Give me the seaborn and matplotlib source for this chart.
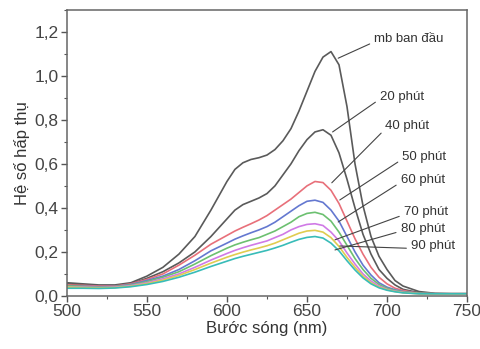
import pandas as pd
import seaborn as sns
import matplotlib.pyplot as plt
from matplotlib.ticker import MultipleLocator, FuncFormatter

wavelength = [500, 510, 520, 530, 540, 550, 560, 570, 580, 590, 600, 605, 610, 615,
              620, 625, 630, 635, 640, 645, 650, 655, 660, 665, 670, 675, 680, 685,
              690, 695, 700, 705, 710, 720, 730, 740, 750]

mb_ban_dau = [0.06, 0.055, 0.05, 0.05, 0.06, 0.09, 0.13, 0.19, 0.27, 0.39, 0.52, 0.575, 0.605, 0.62,
              0.628, 0.64, 0.665, 0.705, 0.76, 0.84, 0.93, 1.02, 1.085, 1.11, 1.05, 0.86, 0.60, 0.41,
              0.27, 0.18, 0.12, 0.07, 0.045, 0.02, 0.012, 0.01, 0.01]
phut_20 = [0.055, 0.05, 0.045, 0.045, 0.055, 0.08, 0.11, 0.15, 0.20, 0.27, 0.35, 0.39, 0.415, 0.43,
           0.445, 0.465, 0.50, 0.55, 0.60, 0.66, 0.71, 0.745, 0.755, 0.73, 0.65, 0.53, 0.40, 0.28,
           0.19, 0.12, 0.08, 0.05, 0.03, 0.015, 0.01, 0.01, 0.01]
phut_40 = [0.05, 0.048, 0.045, 0.045, 0.055, 0.075, 0.10, 0.14, 0.185, 0.235, 0.275, 0.295, 0.312, 0.328,
           0.345, 0.365, 0.39, 0.415, 0.44, 0.47, 0.50, 0.52, 0.515, 0.48, 0.42, 0.34, 0.26, 0.19,
           0.13, 0.085, 0.055, 0.035, 0.025, 0.012, 0.01, 0.01, 0.01]
phut_50 = [0.045, 0.044, 0.042, 0.043, 0.052, 0.07, 0.09, 0.12, 0.16, 0.205, 0.24, 0.258, 0.273, 0.287,
           0.30, 0.315, 0.335, 0.36, 0.385, 0.41, 0.43, 0.435, 0.425, 0.39, 0.34, 0.27, 0.20, 0.14,
           0.095, 0.06, 0.04, 0.028, 0.02, 0.012, 0.01, 0.01, 0.01]
phut_60 = [0.045, 0.043, 0.04, 0.042, 0.05, 0.065, 0.085, 0.11, 0.145, 0.183, 0.217, 0.232, 0.244, 0.255,
           0.265, 0.28, 0.295, 0.315, 0.335, 0.36, 0.375, 0.38, 0.37, 0.34, 0.29, 0.23, 0.17, 0.12,
           0.08, 0.052, 0.035, 0.025, 0.018, 0.012, 0.01, 0.01, 0.01]
phut_70 = [0.04, 0.04, 0.038, 0.04, 0.047, 0.06, 0.078, 0.10, 0.13, 0.163, 0.193, 0.207, 0.219, 0.23,
           0.24, 0.25, 0.265, 0.28, 0.30, 0.315, 0.325, 0.328, 0.32, 0.29, 0.25, 0.195, 0.145, 0.10,
           0.068, 0.045, 0.03, 0.022, 0.016, 0.01, 0.01, 0.01, 0.01]
phut_80 = [0.04, 0.038, 0.036, 0.038, 0.044, 0.056, 0.072, 0.093, 0.12, 0.149, 0.176, 0.188, 0.199, 0.209,
           0.218, 0.228, 0.24, 0.255, 0.27, 0.285, 0.295, 0.298, 0.29, 0.265, 0.225, 0.175, 0.13, 0.09,
           0.06, 0.04, 0.028, 0.02, 0.015, 0.01, 0.01, 0.01, 0.01]
phut_90 = [0.035, 0.035, 0.034, 0.036, 0.042, 0.052, 0.066, 0.085, 0.108, 0.134, 0.158, 0.17, 0.18, 0.189,
           0.198, 0.207, 0.218, 0.23, 0.244, 0.257, 0.266, 0.27, 0.263, 0.24, 0.205, 0.16, 0.118, 0.082,
           0.055, 0.037, 0.026, 0.019, 0.014, 0.01, 0.01, 0.01, 0.01]

series_names = ["mb ban đầu", "20 phút", "40 phút", "50 phút", "60 phút", "70 phút", "80 phút", "90 phút"]
series_values = [mb_ban_dau, phut_20, phut_40, phut_50, phut_60, phut_70, phut_80, phut_90]
colors = ["#5a5a5a", "#5a5a5a", "#e8707a", "#6478d0", "#6cc070", "#d07ae6", "#e0cc50", "#38bcb8"]

# label text position and the point on the curve the leader line goes to
label_pos = [(692, 1.165), (695.5, 0.905), (699, 0.77), (709.5, 0.632), (708.5, 0.527),
             (710.5, 0.38), (708.5, 0.305), (715, 0.227)]
line_to = [(669.5, 1.08), (666, 0.745), (665.5, 0.514), (670.5, 0.436), (669.5, 0.336),
           (667.5, 0.255), (667.5, 0.209), (670.5, 0.227)]

rows = []
for name, vals in zip(series_names, series_values):
    for w, a in zip(wavelength, vals):
        rows.append({"wl": w, "abs": a, "series": name})
df = pd.DataFrame(rows)

sns.set_style("white")
plt.rcParams["font.family"] = ["Liberation Sans", "DejaVu Sans"]

fig = plt.figure(figsize=(4.81, 3.49), dpi=100)
ax = fig.add_axes([0.139, 0.152, 0.832, 0.82])

sns.lineplot(data=df, x="wl", y="abs", hue="series", hue_order=series_names,
             palette=colors, linewidth=1.2, legend=False, ax=ax)

for name, (tx, ty), (px, py) in zip(series_names, label_pos, line_to):
    ax.annotate(name, xy=(px, py), xytext=(tx, ty), fontsize=9.5, color="#333333",
                ha="left", va="center",
                arrowprops=dict(arrowstyle="-", color="#444444", lw=0.8,
                                relpos=(0, 0.3), shrinkA=1, shrinkB=0))

ax.set_xlim(500, 750)
ax.set_ylim(0, 1.3)
ax.xaxis.set_major_locator(MultipleLocator(50))
ax.xaxis.set_minor_locator(MultipleLocator(25))
ax.yaxis.set_major_locator(MultipleLocator(0.2))
ax.yaxis.set_minor_locator(MultipleLocator(0.1))
ax.yaxis.set_major_formatter(FuncFormatter(lambda v, p: f"{v:.1f}".replace(".", ",")))

ax.tick_params(axis="both", which="major", direction="out", length=4, width=1,
               color="#555555", labelsize=12.5, labelcolor="#444444", pad=2)
ax.tick_params(axis="both", which="minor", direction="out", length=2, width=0.8, color="#555555")
ax.tick_params(bottom=True, left=True, which="both")

for s in ax.spines.values():
    s.set_color("#666666")
    s.set_linewidth(1.1)

ax.set_xlabel("Bước sóng (nm)", fontsize=12, color="#333333", labelpad=1)
ax.set_ylabel("Hệ số hấp thụ", fontsize=12, color="#333333", labelpad=3)

fig.savefig("out.png", dpi=100)
